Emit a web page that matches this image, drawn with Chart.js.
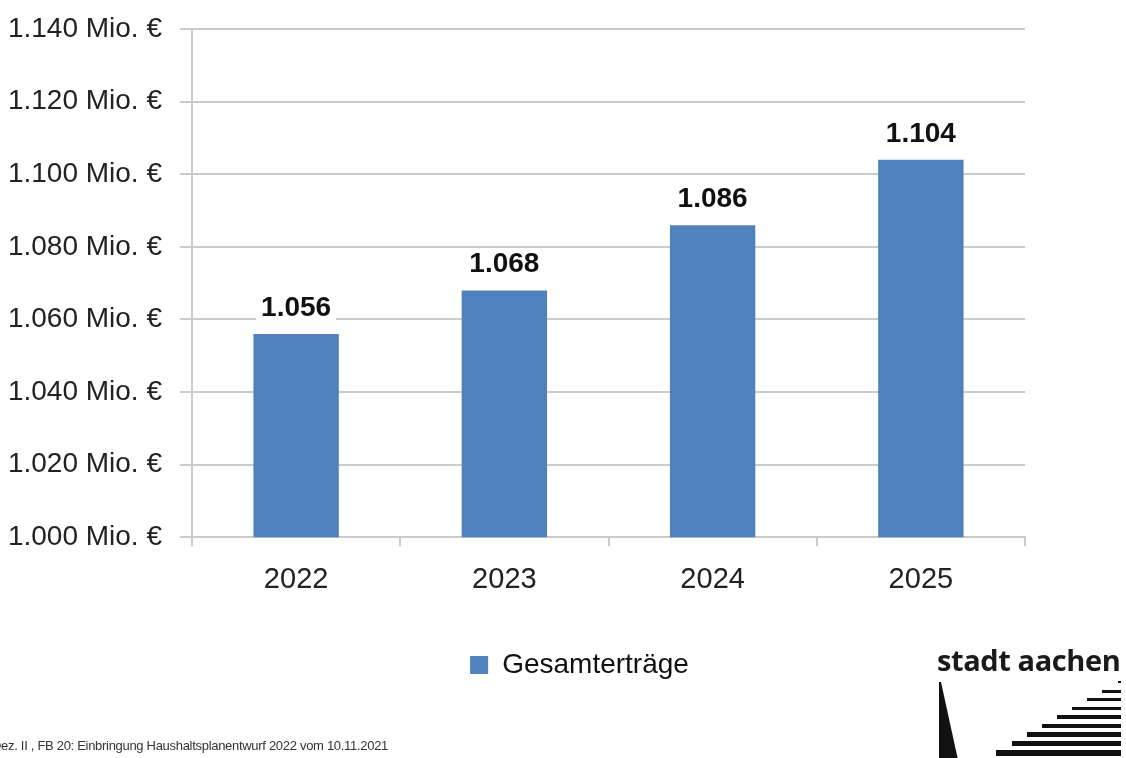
<!DOCTYPE html>
<html>
<head>
<meta charset="utf-8">
<script src="https://cdn.jsdelivr.net/npm/chart.js@4"></script>
<style>
  html, body { margin: 0; padding: 0; background: #fff; overflow: hidden; width: 1126px; height: 758px; }
  #wrap { position: absolute; left: 0; top: 0; width: 1150px; height: 758px; }
  #footer { position: absolute; left: -8px; top: 738px; font: 13px "Liberation Sans", sans-serif; letter-spacing: -0.3px; color: #333; white-space: nowrap; }
  #logo { position: absolute; left: 937px; top: 644px; width: 190px; height: 116px; }
  #logo .name { font: bold 29px "Open Sans", sans-serif; letter-spacing: -0.4px; color: #1a1a1a; line-height: 32px; }
</style>
</head>
<body>
<div id="wrap"><canvas id="chart" width="1150" height="758"></canvas></div>
<div id="footer">Dez. II , FB 20: Einbringung Haushaltsplanentwurf 2022 vom 10.11.2021</div>
<div id="logo">
  <div class="name">stadt aachen</div>
  <svg width="190" height="80" style="position:absolute;left:0;top:36px">
    <polygon points="2,2 4,2 21,80 2,80" fill="#111"/>
    <g fill="#111">
      <rect x="181" y="1" width="3" height="2"/>
      <rect x="165" y="10" width="19" height="3"/>
      <rect x="150" y="18" width="34" height="3"/>
      <rect x="135" y="27" width="49" height="3"/>
      <rect x="120" y="35" width="64" height="4"/>
      <rect x="105" y="44" width="79" height="4"/>
      <rect x="90" y="52" width="94" height="5"/>
      <rect x="75" y="61" width="109" height="5"/>
      <rect x="59" y="70" width="125" height="6"/>
    </g>
  </svg>
</div>
<script>
const years = ["2022", "2023", "2024", "2025"];
const ertraege = [1056, 1068, 1086, 1104];
const seriesName = "Gesamterträge";
const yMin = 1000;
const yMax = 1140;
const yStep = 20;

const barColor = "#4f81bd";
const gridColor = "#cbcbcb";
const fontFamily = "'Liberation Sans', Arial, sans-serif";

function fmt(v) {
    return v.toLocaleString("de-DE");
}

// value labels above the bars, on a white box so gridlines break behind them
const barLabels = {
    id: "barLabels",
    afterDatasetsDraw(chart) {
        const ctx = chart.ctx;
        const meta = chart.getDatasetMeta(0);
        ctx.save();
        ctx.font = "bold 28px " + fontFamily;
        ctx.textAlign = "center";
        ctx.textBaseline = "bottom";
        meta.data.forEach((bar, i) => {
            const txt = fmt(chart.data.datasets[0].data[i]);
            const w = ctx.measureText(txt).width;
            const bottom = bar.y - 12;
            ctx.fillStyle = "#fff";
            ctx.fillRect(bar.x - w / 2 - 5, bottom - 30, w + 10, 28);
            ctx.fillStyle = "#111";
            ctx.fillText(txt, bar.x, bottom);
        });
        ctx.restore();
    }
};

// the legend sits a bit right of the plot's centre in the original
const legendShift = {
    id: "legendShift",
    afterLayout(chart) {
        chart.legend.left += 67;
        chart.legend.right += 67;
    }
};

new Chart(document.getElementById("chart"), {
    type: "bar",
    data: {
        labels: years,
        datasets: [{
            label: seriesName,
            data: ertraege,
            backgroundColor: barColor,
            borderWidth: 0,
            categoryPercentage: 1,
            barPercentage: 0.41
        }]
    },
    options: {
        responsive: false,
        animation: false,
        layout: { padding: { left: 0, right: 125, top: 29, bottom: 69 } },
        scales: {
            x: {
                grid: { display: true, drawOnChartArea: false, drawTicks: true, tickLength: 9, color: gridColor, lineWidth: 2, offset: true },
                border: { color: gridColor, width: 2 },
                ticks: { color: "#222", padding: 16, font: { family: fontFamily, size: 29 } }
            },
            y: {
                min: yMin,
                max: yMax,
                afterFit: scale => { scale.width = 192; },
                grid: { color: gridColor, lineWidth: 2, tickLength: 12 },
                border: { color: gridColor, width: 2 },
                ticks: {
                    stepSize: yStep,
                    color: "#222",
                    padding: 18,
                    font: { family: fontFamily, size: 28, lineHeight: 0.8 },
                    callback: v => fmt(v) + " Mio. €"
                }
            }
        },
        plugins: {
            legend: {
                position: "bottom",
                labels: {
                    boxWidth: 18,
                    boxHeight: 18,
                    padding: 38,
                    color: "#111",
                    font: { family: fontFamily, size: 28 }
                }
            },
            tooltip: { enabled: false }
        }
    },
    plugins: [barLabels, legendShift]
});
</script>
</body>
</html>
